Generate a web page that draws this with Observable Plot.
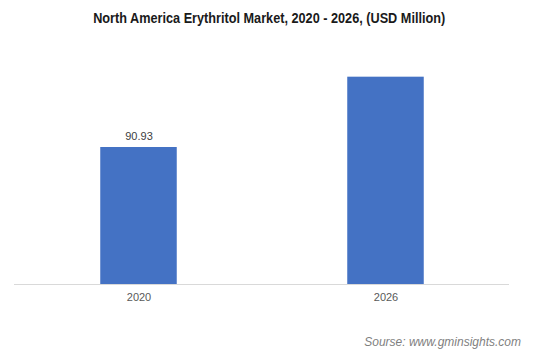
<!DOCTYPE html>
<html>
<head>
<meta charset="utf-8">
<script src="https://cdn.jsdelivr.net/npm/d3@7"></script>
<script src="https://cdn.jsdelivr.net/npm/@observablehq/plot@0.6"></script>
<style>
  html, body { margin: 0; padding: 0; background: #fff; }
  #wrap { width: 539px; height: 362px; position: relative; overflow: hidden; }
  #title { height: 34px; line-height: 36px; text-align: center; font-family: "Liberation Sans", Arial, sans-serif; font-weight: bold; font-size: 14.5px; color: #1a1a1a; }
  #title span { display: inline-block; transform: scaleX(0.875); transform-origin: center; white-space: nowrap; }
  #source { position: absolute; left: 0; width: 521px; top: 335px; text-align: right; font-family: "Liberation Sans", Arial, sans-serif; font-style: italic; font-size: 12px; color: #7f7f7f; }
  svg { display: block; }
</style>
</head>
<body>
<div id="wrap">
  <div id="title"><span>North America Erythritol Market, 2020 - 2026, (USD Million)</span></div>
  <div id="chart"></div>
  <div id="source">Sourse: www.gminsights.com</div>
</div>
<script>
const years = ["2020", "2026"];
const values = [90.93, 137.6];
const valueLabels = ["90.93", ""];

const data = years.map((y, i) => ({year: y, value: values[i], label: valueLabels[i]}));

const chart = Plot.plot({
  width: 539,
  height: 290,
  marginLeft: 14,
  marginRight: 30,
  marginTop: 24,
  marginBottom: 40,
  style: {fontFamily: "'Liberation Sans', Arial, sans-serif", background: "#fff"},
  x: {domain: years, padding: 0, label: null},
  y: {domain: [0, 150], axis: null},
  marks: [
    Plot.barY(data, {x: "year", y: "value", fill: "#4472C4", insetLeft: 85.25, insetRight: 85.25}),
    Plot.ruleY([0], {stroke: "#d9d9d9", strokeWidth: 1}),
    Plot.axisX({tickSize: 0, tickPadding: 9, fontSize: 11, color: "#595959", label: null}),
    Plot.text(data.filter(d => d.label !== ""), {x: "year", y: "value", text: "label", lineAnchor: "bottom", dy: -7, fontSize: 11, fill: "#404040"})
  ]
});
document.getElementById("chart").appendChild(chart);
</script>
</body>
</html>
